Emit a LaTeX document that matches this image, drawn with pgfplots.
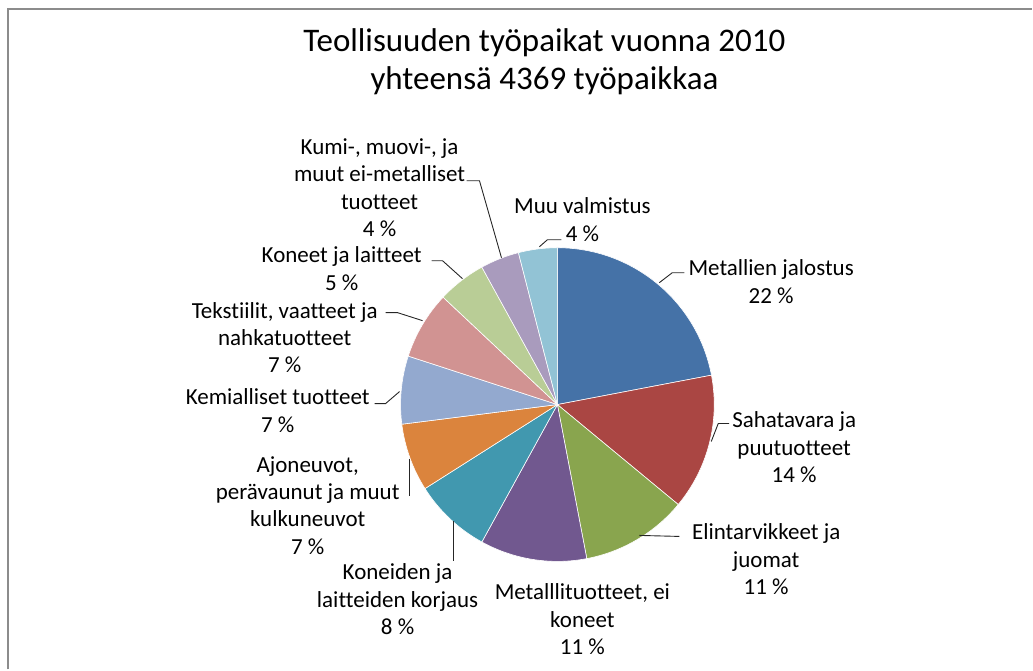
\documentclass[border=0pt]{standalone}
\usepackage{pgfplots}
\pgfplotsset{compat=1.18}
\usepackage{pgfplotstable}
\usepackage{fontspec}
\setmainfont{Carlito}[Ligatures={NoCommon}]

% shares in percent, clockwise from 12 o'clock
\pgfplotstableread{
share
22
14
11
11
8
7
7
7
5
4
4
}\shares

\definecolor{slice0}{HTML}{4572A7}
\definecolor{slice1}{HTML}{AA4643}
\definecolor{slice2}{HTML}{89A54E}
\definecolor{slice3}{HTML}{71588F}
\definecolor{slice4}{HTML}{4198AF}
\definecolor{slice5}{HTML}{DB843D}
\definecolor{slice6}{HTML}{93A9CF}
\definecolor{slice7}{HTML}{D19392}
\definecolor{slice8}{HTML}{B9CD96}
\definecolor{slice9}{HTML}{A99BBD}
\definecolor{slice10}{HTML}{92C3D5}

\tikzset{
  lbl/.style={font=\fontsize{23}{27.5}\selectfont, align=center, inner sep=0pt},
  lead/.style={draw=black!85, line width=0.9pt},
}

\begin{document}
\begin{tikzpicture}
\begin{axis}[
  scale only axis,
  width=1033pt, height=670pt,
  xmin=0, xmax=1033, ymin=0, ymax=670,
  hide axis, clip=false,
]
\path (axis cs:0,0) rectangle (axis cs:1033,670);
% frame
\draw[gray!90, line width=2.2pt] (axis cs:8,0) -- (axis cs:8,661) -- (axis cs:1033,661);

% slices
\def\curang{90}
\pgfplotsforeachungrouped \i in {0,...,10}{
  \pgfplotstablegetelem{\i}{share}\of\shares
  \pgfmathsetmacro{\endang}{\curang-3.6*\pgfplotsretval}
  \pgfmathsetmacro{\px}{558+157*cos(\curang)}
  \pgfmathsetmacro{\py}{265+157*sin(\curang)}
  \edef\temp{\noexpand\fill[fill=slice\i, draw=white, line width=0.6pt]
    (axis cs:558,265) -- (axis cs:\px,\py)
    arc[start angle=\curang, end angle=\endang, radius=157] -- cycle;}
  \temp
  \global\let\curang\endang
}

% title
\node[font=\fontsize{33}{38}\selectfont, align=center, inner sep=0pt]
  at (axis cs:545,608) {Teollisuuden työpaikat vuonna 2010\\yhteensä 4369 työpaikkaa};

% labels (y = 670 - pixel row)
\node[lbl] at (axis cs:772,388) {Metallien jalostus\\22 \%};
\node[lbl] at (axis cs:795,222) {Sahatavara ja\\puutuotteet\\14 \%};
\node[lbl] at (axis cs:767,110) {Elintarvikkeet ja\\juomat\\11 \%};
\node[lbl] at (axis cs:583,50) {Metalllituotteet, ei\\koneet\\11 \%};
\node[lbl] at (axis cs:398,70) {Koneiden ja\\laitteiden korjaus\\8 \%};
\node[lbl] at (axis cs:308,164) {Ajoneuvot,\\perävaunut ja muut\\kulkuneuvot\\7 \%};
\node[lbl] at (axis cs:278,259) {Kemialliset tuotteet\\7 \%};
\node[lbl] at (axis cs:285,332) {Tekstiilit, vaatteet ja\\nahkatuotteet\\7 \%};
\node[lbl] at (axis cs:342,401) {Koneet ja laitteet\\5 \%};
\node[lbl] at (axis cs:380,482) {Kumi-, muovi-, ja\\muut ei-metalliset\\tuotteet\\4 \%};
\node[lbl] at (axis cs:583,450) {Muu valmistus\\4 \%};

% leader lines
\draw[lead] (axis cs:685,397) -- (axis cs:673,397) -- (axis cs:660,387);
\draw[lead] (axis cs:730,246) -- (axis cs:719,246) -- (axis cs:712,228);
\draw[lead] (axis cs:640,134) -- (axis cs:680,133);
\draw[lead] (axis cs:454,148) -- (axis cs:454,108);
\draw[lead] (axis cs:410,211) -- (axis cs:410,173);
\draw[lead] (axis cs:375,266) -- (axis cs:386,266) -- (axis cs:400,278);
\draw[lead] (axis cs:386,357) -- (axis cs:398,357) -- (axis cs:423,349);
\draw[lead] (axis cs:432,409) -- (axis cs:443,409) -- (axis cs:463,391);
\draw[lead] (axis cs:467,489) -- (axis cs:480,489) -- (axis cs:502,412);
\draw[lead] (axis cs:562,430) -- (axis cs:548,430) -- (axis cs:540,423);
\end{axis}
\end{tikzpicture}
\end{document}
